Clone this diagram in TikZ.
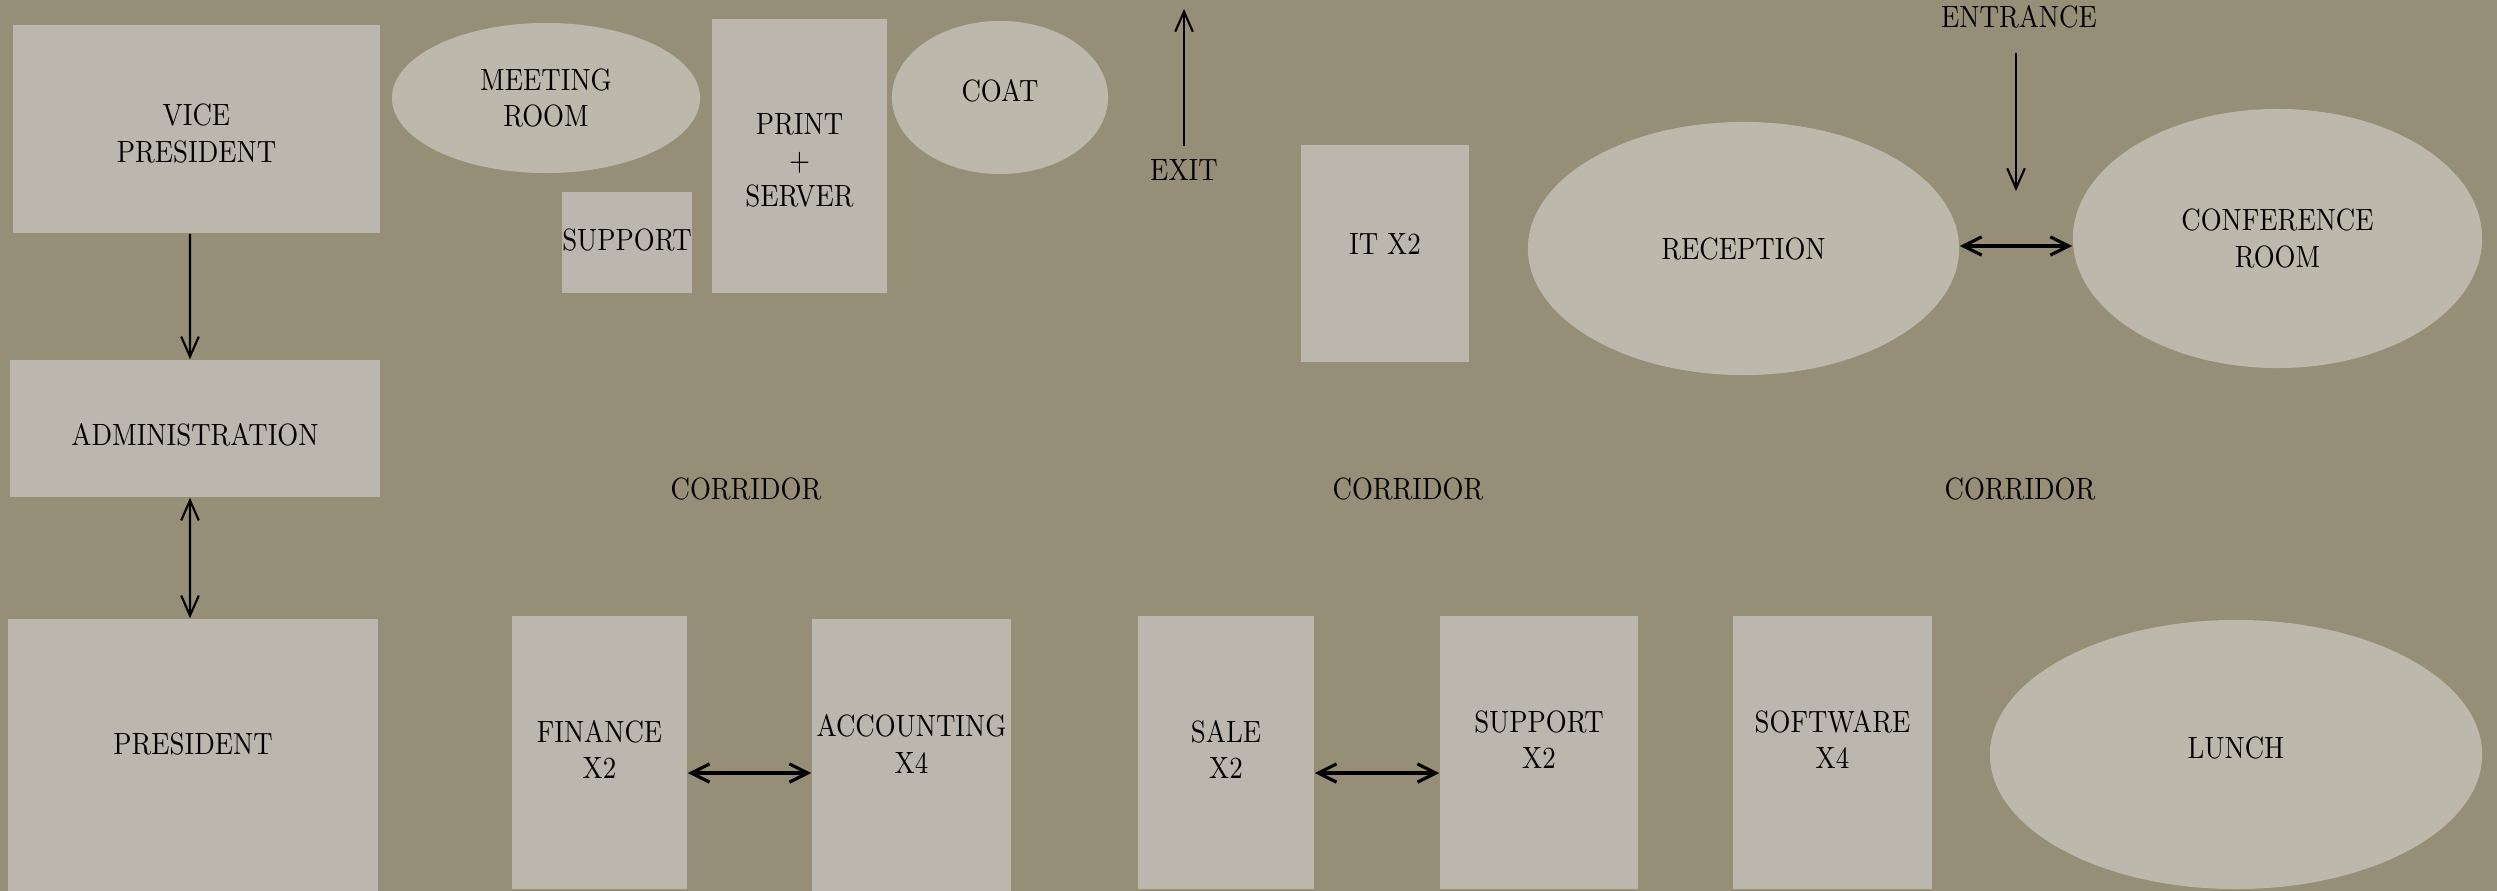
\documentclass[tikz,border=0pt]{standalone}
\usepackage{fontspec}
\setmainfont{Latin Modern Roman}[FakeStretch=0.85]
\usetikzlibrary{shapes.geometric,arrows.meta}
\definecolor{bgc}{RGB}{150,142,118}
\definecolor{boxc}{RGB}{187,183,175}
\definecolor{ellc}{RGB}{188,184,172}
\tikzset{
  txt/.style={font=\fontsize{8.75}{10.3}\selectfont, text=black, align=center},
  room/.style={txt, rectangle, fill=boxc, draw=none, inner sep=0pt},
  oval/.style={txt, ellipse, fill=ellc, draw=none, inner sep=0pt},
  lbl/.style={txt, inner sep=0pt},
  txtat/.style 2 args={label={[lbl,yshift=#1]center:#2}},
  varr/.style={line width=0.6pt, -{Straight Barb[length=5.7pt,width=5pt]}},
  vdarr/.style={line width=0.6pt, {Straight Barb[length=5.7pt,width=5pt]}-{Straight Barb[length=5.7pt,width=5pt]}},
  harr/.style={line width=0.9pt, {Straight Barb[length=5.2pt,width=5.2pt]}-{Straight Barb[length=5.2pt,width=5.2pt]}}
}
\begin{document}
\begin{tikzpicture}[x=0.01cm,y=-0.01cm]
\fill[bgc] (0,0) rectangle (2497,891);
\useasboundingbox (0,0) rectangle (2497,891);
% top left block
\node[room, minimum width=3.67cm, minimum height=2.08cm, txtat={-0.045cm}{VICE\\PRESIDENT}] (vp) at (196.5,129) {};
\node[oval, minimum width=3.08cm, minimum height=1.50cm] (meet) at (546,98) {MEETING\\ROOM};
\node[room, minimum width=1.75cm, minimum height=2.74cm, txtat={-0.045cm}{PRINT\\+\\SERVER}] (print) at (799.5,156) {};
\node[oval, minimum width=2.16cm, minimum height=1.53cm, txtat={0.065cm}{COAT}] (coat) at (1000,97.5) {};
\node[room, minimum width=1.30cm, minimum height=1.01cm, txtat={0.03cm}{SUPPORT}] (supp) at (627,242.5) {};
\node[lbl, outer ysep=3.7pt] (exit) at (1184,170) {EXIT};
\coordinate (exittop) at (1184,9);
\node[room, minimum width=3.70cm, minimum height=1.37cm, txtat={-0.065cm}{ADMINISTRATION}] (admin) at (195,428.5) {};
\node[room, minimum width=3.70cm, minimum height=2.72cm, txtat={0.11cm}{PRESIDENT}] (pres) at (193,755) {};
% top right block
\node[room, minimum width=1.68cm, minimum height=2.17cm, txtat={0.095cm}{IT X2}] (it) at (1385,253.5) {};
\node[oval, minimum width=4.31cm, minimum height=2.53cm] (rec) at (1743.5,248.5) {RECEPTION};
\node[oval, minimum width=4.09cm, minimum height=2.59cm] (conf) at (2277.5,238.5) {CONFERENCE\\ROOM};
\node[lbl, outer ysep=7pt] (ent) at (2019,17) {ENTRANCE};
\coordinate (entbot) at (2016,191);
% corridors
\node[lbl] (cor1) at (746,489) {CORRIDOR};
\node[lbl] (cor2) at (1408,489) {CORRIDOR};
\node[lbl] (cor3) at (2020,489) {CORRIDOR};
% bottom row
\node[room, minimum width=1.75cm, minimum height=2.73cm, txtat={0.03cm}{FINANCE\\X2}] (fin) at (599.5,752.5) {};
\node[room, minimum width=1.99cm, minimum height=2.72cm, txtat={0.11cm}{ACCOUNTING\\X4}] (acc) at (911.5,755) {};
\node[room, minimum width=1.76cm, minimum height=2.73cm, txtat={0.03cm}{SALE\\X2}] (sale) at (1226,752.5) {};
\node[room, minimum width=1.98cm, minimum height=2.73cm, txtat={0.13cm}{SUPPORT\\X2}] (supp2) at (1539,752.5) {};
\node[room, minimum width=1.99cm, minimum height=2.73cm, txtat={0.13cm}{SOFTWARE\\X4}] (soft) at (1832.5,752.5) {};
\node[oval, minimum width=4.92cm, minimum height=2.69cm, txtat={0.065cm}{LUNCH}] (lunch) at (2236,754.5) {};
% connectors
\draw[varr] ([xshift=-0.065cm]vp.south) -- ([xshift=-0.05cm]admin.north);
\draw[vdarr] ([xshift=-0.05cm]admin.south) -- ([xshift=-0.03cm]pres.north);
\draw[varr] (exit.north) -- (exittop);
\draw[varr] (ent.south -| entbot) -- (entbot);
\draw[harr] ([yshift=0.025cm]rec.east) -- ([yshift=0.025cm]rec.east -| conf.west);
\draw[harr] ([yshift=-0.205cm]fin.east) -- ([yshift=-0.205cm]fin.east -| acc.west);
\draw[harr] ([yshift=-0.205cm]sale.east) -- ([yshift=-0.205cm]sale.east -| supp2.west);
\end{tikzpicture}
\end{document}
